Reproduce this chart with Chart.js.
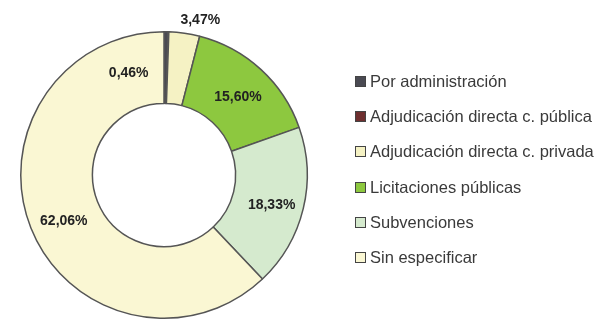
<!DOCTYPE html>
<html>
<head>
<meta charset="utf-8">
<script src="https://cdn.jsdelivr.net/npm/chart.js@4"></script>
<style>
  html, body { margin: 0; padding: 0; background: #ffffff; }
  #wrap { position: relative; width: 607px; height: 322px; overflow: hidden; }
  #c { position: absolute; left: 0; top: 0; }
  #legend { position: absolute; left: 355px; top: 64px; font-family: "Liberation Sans", Arial, sans-serif; font-size: 16.5px; color: #3a3a3a; }
  #legend .item { height: 35.2px; white-space: nowrap; display: flex; align-items: center; }
  #legend .box { width: 9px; height: 9px; border: 1px solid #444; margin-right: 4px; display: inline-block; flex: none; }
</style>
</head>
<body>
<div id="wrap">
  <canvas id="c" width="607" height="322"></canvas>
  <div id="legend"></div>
</div>
<script>
// ---- data ----
const categories = [
  "Por administración",
  "Adjudicación directa c. pública",
  "Adjudicación directa c. privada",
  "Licitaciones públicas",
  "Subvenciones",
  "Sin especificar"
];
const values = [0.46, 0.08, 3.47, 15.60, 18.33, 62.06];
const valueLabels = ["0,46%", "", "3,47%", "15,60%", "18,33%", "62,06%"];

// ---- styles ----
const colors = ["#4a4a52", "#6e2f2f", "#f5f2c4", "#8dc83f", "#d5eace", "#faf7d3"];
// per-label placement tweaks: [angle shift in degrees, radius factor (null = mid ring, otherwise x outer radius)]
const labelTweaks = [[-20, null], [0, null], [5, 1.11], [1, null], [2, 0.78], [-3, 0.77]];

const labelPlugin = {
  id: 'sliceLabels',
  afterDatasetsDraw(chart) {
    const ctx = chart.ctx;
    const meta = chart.getDatasetMeta(0);
    ctx.save();
    ctx.font = 'bold 14px "Liberation Sans", Arial, sans-serif';
    ctx.fillStyle = '#222222';
    ctx.textAlign = 'center';
    ctx.textBaseline = 'middle';
    meta.data.forEach((arc, i) => {
      const txt = valueLabels[i];
      if (!txt) return;
      const p = arc.getProps(['x', 'y', 'startAngle', 'endAngle', 'innerRadius', 'outerRadius'], true);
      const tw = labelTweaks[i];
      const mid = (p.startAngle + p.endAngle) / 2 + tw[0] * Math.PI / 180;
      const r = tw[1] === null ? (p.innerRadius + p.outerRadius) / 2 : p.outerRadius * tw[1];
      ctx.fillText(txt, p.x + Math.cos(mid) * r, p.y + Math.sin(mid) * r);
    });
    ctx.restore();
  }
};

new Chart(document.getElementById('c'), {
  type: 'doughnut',
  data: {
    labels: categories,
    datasets: [{
      data: values,
      backgroundColor: colors,
      borderColor: '#555555',
      borderWidth: 1.5
    }]
  },
  options: {
    responsive: false,
    animation: false,
    cutout: '50%',
    layout: { padding: { left: 20, right: 299, top: 31, bottom: 3 } },
    plugins: {
      legend: { display: false },
      tooltip: { enabled: false }
    }
  },
  plugins: [labelPlugin]
});

// HTML legend from the same arrays
const lg = document.getElementById('legend');
categories.forEach((name, i) => {
  const it = document.createElement('div');
  it.className = 'item';
  const b = document.createElement('span');
  b.className = 'box';
  b.style.background = colors[i];
  const t = document.createElement('span');
  t.textContent = name;
  it.appendChild(b);
  it.appendChild(t);
  lg.appendChild(it);
});
</script>
</body>
</html>
